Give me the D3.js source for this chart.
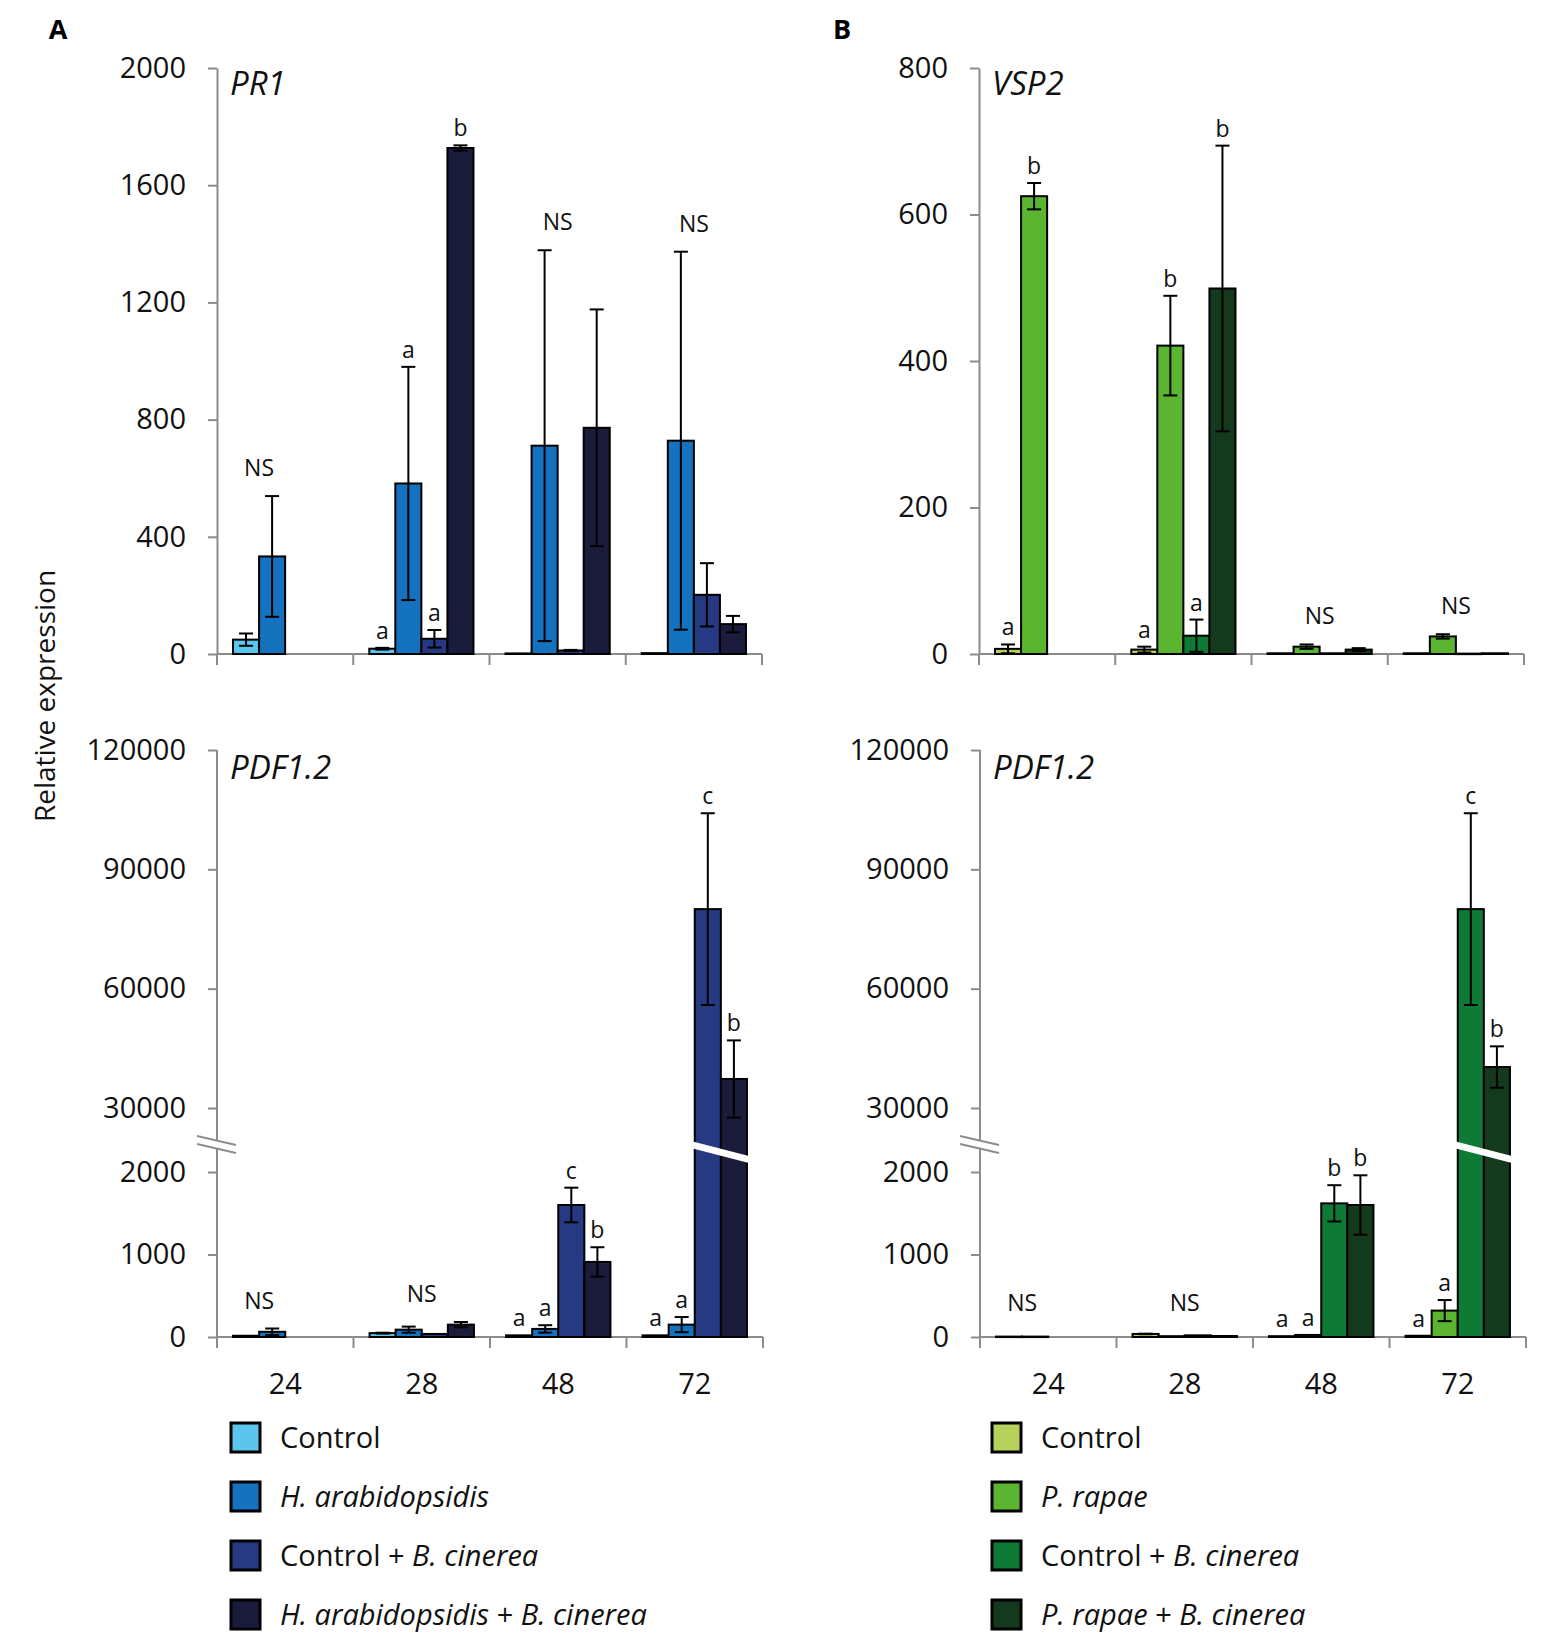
<!DOCTYPE html>
<html>
<head>
<meta charset="utf-8">
<script src="https://cdn.jsdelivr.net/npm/d3@7"></script>
<style>
  html, body { margin: 0; padding: 0; background: #fff; }
  svg text { font-family: "Open Sans", "Noto Sans", sans-serif; white-space: pre; }
</style>
</head>
<body>
<svg id="fig" width="1560" height="1635"></svg>
<script>
// Hours post treatment, shared by all four panels.
const cats = ['24', '28', '48', '72'];

// Series order: Control, treatment, Control + B. cinerea, treatment + B. cinerea.
// null = no bar for that time point.
const pr1Mean = [[49, 18, 2, 3], [333, 582, 711, 728], [null, 52, 12, 202], [null, 1727, 772, 102]];
const pr1Err  = [[21, 3, 0, 0], [206, 398, 667, 645], [null, 30, 2, 108], [null, 9, 404, 28]];
const pr1Letters = [['', 'a', '', ''], ['', 'a', '', ''], ['', 'a', '', ''], ['', 'b', '', '']];
const pr1NS = [true, false, true, true];

const vsp2Mean = [[7, 6, 1, 1], [625, 421, 10, 24], [null, 25, 1, 0.5], [null, 499, 6, 1]];
const vsp2Err  = [[6, 4, 0, 0], [18, 68, 3, 3], [null, 22, 0, 0], [null, 195, 2, 0]];
const vsp2Letters = [['a', 'a', '', ''], ['b', 'b', '', ''], ['', 'a', '', ''], ['', 'b', '', '']];
const vsp2NS = [false, false, true, true];

const pdfAMean = [[15, 47, 20, 20], [63, 89, 98, 150], [null, 37, 1600, 80000], [null, 150, 910, 37300]];
const pdfAErr  = [[0, 5, 0, 0], [40, 37, 45, 92], [null, 0, 210, 24100], [null, 32, 178, 9700]];
const pdfALetters = [['', '', 'a', 'a'], ['', '', 'a', 'a'], ['', '', 'c', 'c'], ['', '', 'b', 'b']];
const pdfANS = [true, true, false, false];

const pdfBMean = [[5, 37, 10, 15], [5, 10, 25, 320], [null, 20, 1620, 80000], [null, 12, 1600, 40300]];
const pdfBErr  = [[0, 3, 0, 0], [0, 0, 0, 128], [null, 0, 220, 24100], [null, 0, 360, 5200]];
const pdfBLetters = [['', '', 'a', 'a'], ['', '', 'a', 'a'], ['', '', 'b', 'c'], ['', '', 'b', 'b']];
const pdfBNS = [true, true, false, false];

// Axis ticks
const pr1Ticks = [0, 400, 800, 1200, 1600, 2000];
const vsp2Ticks = [0, 200, 400, 600, 800];
const pdfLowTicks = [0, 1000, 2000];
const pdfHighTicks = [30000, 60000, 90000, 120000];

// Legends: [text, italic] runs
const legendA = [
  [['Control', false]],
  [['H. arabidopsidis', true]],
  [['Control + ', false], ['B. cinerea', true]],
  [['H. arabidopsidis', true], [' + ', false], ['B. cinerea', true]],
];
const legendB = [
  [['Control', false]],
  [['P. rapae', true]],
  [['Control + ', false], ['B. cinerea', true]],
  [['P. rapae', true], [' + ', false], ['B. cinerea', true]],
];
const coloursA = ['#5bc5ee', '#1572be', '#263a84', '#1b1c3c'];
const coloursB = ['#b6d25a', '#5bb531', '#0e7a35', '#143a1e'];

const AXIS = '#8c8c8c';
const svg = d3.select('#fig');
svg.append('rect').attr('width', 1560).attr('height', 1635).attr('fill', '#fff');

function styleAxis(g) {
  g.selectAll('.domain, .tick line').attr('stroke', AXIS).attr('stroke-width', 2);
  g.selectAll('.tick text')
    .attr('font-family', '"Open Sans", sans-serif')
    .attr('font-size', 29).attr('fill', '#111');
  g.attr('font-family', null).attr('font-size', null);
}

// Draws one bar panel. `y` maps a value to a pixel row (possibly piecewise).
function drawPanel(o) {
  const g = svg.append('g');
  const x0 = d3.scaleBand().domain(cats).range([o.left, o.left + o.width]);
  const x1 = d3.scaleBand().domain(d3.range(4)).range([0, x0.bandwidth()])
    .paddingInner(0).paddingOuter(0.615);
  const y0 = o.y(0);

  // y axis
  o.drawAxis(g);

  // x axis line + boundary ticks
  g.append('line')
    .attr('x1', o.left).attr('x2', o.left + o.width)
    .attr('y1', y0).attr('y2', y0)
    .attr('stroke', AXIS).attr('stroke-width', 2);
  const bounds = cats.map(c => x0(c)).concat([o.left + o.width]);
  g.selectAll('line.xt').data(bounds).join('line')
    .attr('class', 'xt')
    .attr('x1', d => d).attr('x2', d => d)
    .attr('y1', y0).attr('y2', y0 + 11)
    .attr('stroke', AXIS).attr('stroke-width', 2);

  if (o.xLabels) {
    g.selectAll('text.xl').data(cats).join('text')
      .attr('class', 'xl')
      .attr('x', d => x0(d) + x0.bandwidth() / 2)
      .attr('y', y0 + 45)
      .attr('text-anchor', 'middle').attr('dominant-baseline', 'central')
      .attr('font-size', 29).attr('fill', '#111')
      .text(d => d);
  }

  const rows = [];
  o.mean.forEach((vals, si) => vals.forEach((v, ci) => {
    if (v == null) return;
    rows.push({ si, ci, v, e: o.err[si][ci], letter: o.letters[si][ci] });
  }));
  const bx = d => x0(cats[d.ci]) + x1(d.si);
  const bw = x1.bandwidth();
  const topOf = d => o.y(d.v + d.e);

  g.append('g').selectAll('rect').data(rows).join('rect')
    .attr('x', bx).attr('width', bw)
    .attr('y', d => o.y(d.v))
    .attr('height', d => Math.max(0.5, y0 - o.y(d.v)))
    .attr('fill', d => o.colours[d.si])
    .attr('stroke', '#000').attr('stroke-width', 2);

  // white slanted gap through bars that cross the axis break
  if (o.breakY) {
    cats.forEach((c, ci) => {
      const tall = rows.filter(d => d.ci === ci && d.v > o.breakMax);
      if (!tall.length) return;
      const xa = bx(tall[0]) - 2;
      const xb = bx(tall[tall.length - 1]) + bw + 2;
      const s = 0.26, h = 7, yc = o.breakY;
      g.append('polygon')
        .attr('points', [[xa, yc - h / 2], [xb, yc - h / 2 + s * (xb - xa)],
                         [xb, yc + h / 2 + s * (xb - xa)], [xa, yc + h / 2]].join(' '))
        .attr('fill', '#fff');
    });
  }

  // error bars
  const eb = g.append('g').attr('stroke', '#000').attr('stroke-width', 2);
  rows.filter(d => d.e > 0).forEach(d => {
    const cx = bx(d) + bw / 2;
    const yt = o.y(d.v + d.e), yb = o.y(Math.max(0, d.v - d.e));
    eb.append('line').attr('x1', cx).attr('x2', cx).attr('y1', yt).attr('y2', yb);
    eb.append('line').attr('x1', cx - 7).attr('x2', cx + 7).attr('y1', yt).attr('y2', yt);
    eb.append('line').attr('x1', cx - 7).attr('x2', cx + 7).attr('y1', yb).attr('y2', yb);
  });

  // significance letters
  g.selectAll('text.lt').data(rows.filter(d => d.letter)).join('text')
    .attr('class', 'lt')
    .attr('x', d => bx(d) + bw / 2)
    .attr('y', d => topOf(d) - 9)
    .attr('text-anchor', 'middle').attr('font-size', 23).attr('fill', '#111')
    .text(d => d.letter);

  // NS over whole time point
  o.ns.forEach((flag, ci) => {
    if (!flag) return;
    const grp = rows.filter(d => d.ci === ci);
    const cx = d3.mean(grp, d => bx(d) + bw / 2);
    const yt = Math.min(d3.min(grp, topOf) - 20, y0 - 26);
    g.append('text')
      .attr('x', cx).attr('y', yt)
      .attr('text-anchor', 'middle').attr('font-size', 23).attr('fill', '#111')
      .text('NS');
  });

  g.append('text')
    .attr('x', o.left + 13).attr('y', o.titleY)
    .attr('font-size', 33).attr('font-style', 'italic').attr('fill', '#111')
    .text(o.title);
}

// --- top panels: plain linear axes
function linearPanel(left, max, ticks, mean, err, letters, ns, colours, title) {
  const y = d3.scaleLinear().domain([0, max]).range([654, 68]);
  drawPanel({
    left, width: 545, y, mean, err, letters, ns, colours, title, titleY: 95,
    xLabels: false,
    drawAxis: g => {
      const ax = g.append('g').attr('transform', `translate(${left},0)`)
        .call(d3.axisLeft(y).tickValues(ticks).tickSize(9).tickSizeOuter(0)
          .tickPadding(22).tickFormat(d3.format('d')));
      styleAxis(ax);
    },
  });
}

// --- bottom panels: broken axis (0–2300 below, 20000–120000 above)
const pdfLow = d3.scaleLinear().domain([0, 2000]).range([1337, 1172]);
const pdfHigh = d3.scaleLinear().domain([30000, 120000]).range([1108, 750]);
const PDF_BREAK_MAX = 2300;
const pdfY = v => v <= PDF_BREAK_MAX ? pdfLow(v) : pdfHigh(Math.max(v, 20000));

function brokenPanel(left, mean, err, letters, ns, colours) {
  drawPanel({
    left, width: 546, y: pdfY, mean, err, letters, ns, colours, title: 'PDF1.2', titleY: 779,
    xLabels: true, breakY: 1145, breakMax: PDF_BREAK_MAX,
    drawAxis: g => {
      g.append('line')
        .attr('x1', left).attr('x2', left)
        .attr('y1', pdfHigh(120000)).attr('y2', pdfLow(0))
        .attr('stroke', AXIS).attr('stroke-width', 2);
      [[pdfLow, pdfLowTicks], [pdfHigh, pdfHighTicks]].forEach(([sc, tv]) => {
        const ax = g.append('g').attr('transform', `translate(${left},0)`)
          .call(d3.axisLeft(sc).tickValues(tv).tickSize(9).tickSizeOuter(0)
            .tickPadding(22).tickFormat(d3.format('d')));
        ax.select('.domain').remove();
        styleAxis(ax);
      });
      // axis break marks
      const xa = left - 20, xb = left + 19, s = 0.23, yc = 1136;
      g.append('polygon')
        .attr('points', [[xa, yc], [xb, yc + s * (xb - xa)], [xb, yc + s * (xb - xa) + 8], [xa, yc + 8]].join(' '))
        .attr('fill', '#fff');
      [0, 8].forEach(dy => g.append('line')
        .attr('x1', xa).attr('y1', yc + dy)
        .attr('x2', xb).attr('y2', yc + dy + s * (xb - xa))
        .attr('stroke', AXIS).attr('stroke-width', 2));
    },
  });
}

linearPanel(217, 2000, pr1Ticks, pr1Mean, pr1Err, pr1Letters, pr1NS, coloursA, 'PR1');
linearPanel(979, 800, vsp2Ticks, vsp2Mean, vsp2Err, vsp2Letters, vsp2NS, coloursB, 'VSP2');
brokenPanel(217, pdfAMean, pdfAErr, pdfALetters, pdfANS, coloursA);
brokenPanel(980, pdfBMean, pdfBErr, pdfBLetters, pdfBNS, coloursB);

// panel letters
[['A', 58], ['B', 842]].forEach(([t, x]) => svg.append('text')
  .attr('x', x).attr('y', 39).attr('text-anchor', 'middle')
  .attr('font-family', '"Liberation Sans", Arial, sans-serif')
  .attr('font-weight', 'bold').attr('font-size', 27).attr('fill', '#000')
  .text(t));

// shared y title
svg.append('text')
  .attr('transform', 'translate(44,696) rotate(-90)')
  .attr('text-anchor', 'middle').attr('dominant-baseline', 'central')
  .attr('font-size', 28).attr('fill', '#111')
  .text('Relative expression');

// legends
function legend(x, items, colours) {
  const g = svg.append('g');
  items.forEach((runs, i) => {
    const top = 1423 + i * 59;
    g.append('rect')
      .attr('x', x).attr('y', top).attr('width', 29).attr('height', 29)
      .attr('fill', colours[i]).attr('stroke', '#000').attr('stroke-width', 3);
    const t = g.append('text')
      .attr('x', x + 49).attr('y', top + 25)
      .attr('font-size', 29).attr('fill', '#111');
    runs.forEach(([s, it]) => t.append('tspan')
      .attr('font-style', it ? 'italic' : 'normal').text(s));
  });
}
legend(231, legendA, coloursA);
legend(992, legendB, coloursB);
</script>
</body>
</html>
